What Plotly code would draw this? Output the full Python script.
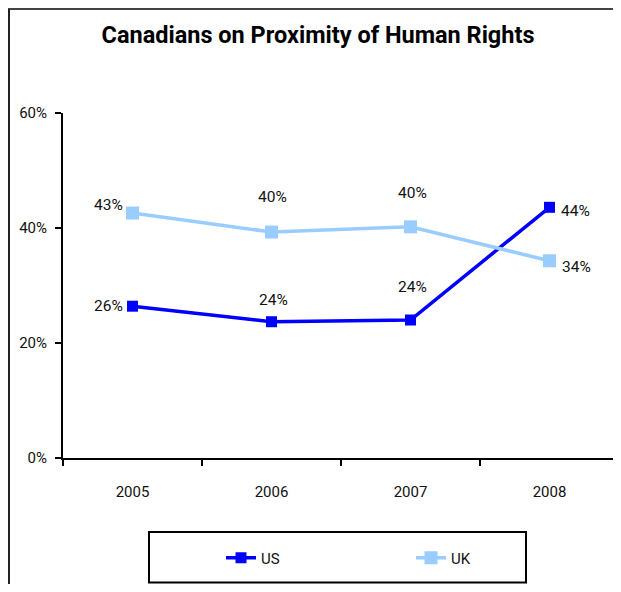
import plotly.graph_objects as go

years = ["2005", "2006", "2007", "2008"]
us_values = [26.4, 23.7, 24.0, 43.6]
uk_values = [42.6, 39.3, 40.2, 34.3]
us_labels = ["26%", "24%", "24%", "44%"]
uk_labels = ["43%", "40%", "40%", "34%"]
y_ticks = [0, 20, 40, 60]
y_tick_labels = ["0%", "20%", "40%", "60%"]

FONT = "Roboto, Liberation Sans, sans-serif"
US_COLOR = "#0000FF"
UK_COLOR = "#99CCFF"

# label placement: (xanchor, xshift, yshift)
us_place = [("right", -8, 0), ("center", 2, 22), ("center", 2, 33), ("left", 9, -4)]
uk_place = [("right", -8, 8), ("center", 1, 35), ("center", 2, 34), ("left", 10, -6)]

fig = go.Figure()
fig.add_trace(go.Scatter(
    x=years, y=us_values, name="US", mode="lines+markers",
    line=dict(color=US_COLOR, width=3.5),
    marker=dict(symbol="square", size=11, color=US_COLOR),
))
fig.add_trace(go.Scatter(
    x=years, y=uk_values, name="UK", mode="lines+markers",
    line=dict(color=UK_COLOR, width=3.5),
    marker=dict(symbol="square", size=13, color=UK_COLOR),
))

for vals, labs, place in ((us_values, us_labels, us_place), (uk_values, uk_labels, uk_place)):
    for i, (v, t, (xa, xs, ys)) in enumerate(zip(vals, labs, place)):
        fig.add_annotation(x=i, y=v, text=t, showarrow=False, xanchor=xa,
                           yanchor="middle", xshift=xs, yshift=ys,
                           font=dict(family=FONT, size=15.5, color="#111"))

# figure is drawn inside the page's 8px body margin
W, H = 613, 576
L, R, T, B = 55, 2, 105, 126
pw, ph = W - L - R, H - T - B


def px(x):
    return (x - L) / pw


def py(y):
    return (H - B - y) / ph


shapes = [
    dict(type="line", xref="paper", yref="paper", x0=px(0), x1=px(W), y0=py(1), y1=py(1),
         line=dict(color="#444", width=2)),
    dict(type="line", xref="paper", yref="paper", x0=px(1), x1=px(1), y0=py(1), y1=py(H),
         line=dict(color="#222", width=2)),
    dict(type="rect", xref="paper", yref="paper", x0=px(141), x1=px(518), y0=py(524), y1=py(574.5),
         line=dict(color="black", width=2), fillcolor="rgba(0,0,0,0)"),
]

fig.update_layout(
    width=W, height=H,
    margin=dict(l=L, r=R, t=T, b=B),
    paper_bgcolor="white", plot_bgcolor="white",
    title=dict(text="<b>Canadians on Proximity of Human Rights</b>", x=px(310), xanchor="center",
               xref="paper", y=1 - 27 / H, yanchor="middle",
               font=dict(family=FONT, size=23.5, color="black")),
    font=dict(family=FONT, size=15, color="#111"),
    showlegend=True,
    legend=dict(orientation="h", x=px(213), y=py(550), xanchor="left", yanchor="middle",
                bgcolor="rgba(0,0,0,0)", entrywidth=145, entrywidthmode="pixels",
                font=dict(family=FONT, size=15, color="#111")),
    shapes=shapes,
    xaxis=dict(type="category", range=[-0.5, 3.5], showline=True, linecolor="black",
               linewidth=2, showgrid=False,
               ticks="outside", tickson="boundaries", ticklen=6, tickcolor="black",
               tickwidth=2, tickfont=dict(family=FONT, size=15), zeroline=False,
               tickangle=0, fixedrange=True, ticklabelstandoff=19),
    yaxis=dict(range=[0, 60], tickvals=y_ticks, ticktext=y_tick_labels, showline=True,
               linecolor="black", linewidth=2, showgrid=False, ticks="outside", ticklen=6,
               tickcolor="black", tickwidth=2, tickfont=dict(family=FONT, size=15),
               zeroline=False, ticklabelstandoff=5),
)

fig.write_html("out.html", config={"displayModeBar": False},
               post_script="document.body.style.overflow='hidden';")
